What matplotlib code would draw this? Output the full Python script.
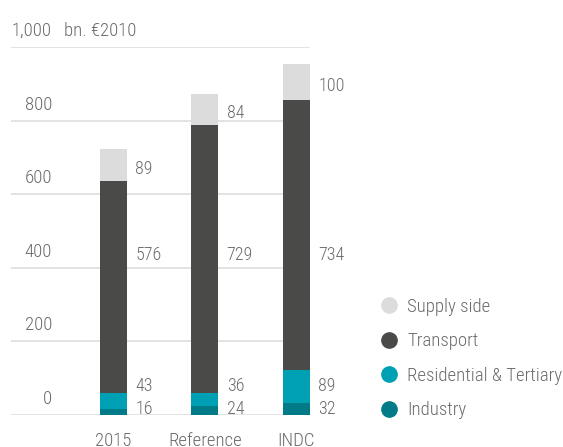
import matplotlib
matplotlib.use("Agg")
import matplotlib.pyplot as plt
from matplotlib.lines import Line2D
from matplotlib import transforms

plt.rcParams['font.family'] = ['Roboto Condensed', 'DejaVu Sans']
plt.rcParams['font.weight'] = 300

# -----------------------------
# Data
# -----------------------------
categories = ["2015", "Reference", "INDC"]
industry = [16, 24, 32]
residential = [43, 36, 89]
transport = [576, 729, 734]
supply = [89, 84, 100]

series_names = ["Industry", "Residential & Tertiary", "Transport", "Supply side"]
series_colors = ["#007b87", "#00a0b4", "#4a4a48", "#dcdcdc"]
yticks = [0, 200, 400, 600, 800, 1000]
ytick_labels = ["0", "200", "400", "600", "800", "1,000"]
unit_label = "bn. €2010"

text_color = "#6b6b6b"
grid_color = "#dedede"

# -----------------------------
# Figure
# -----------------------------
fig = plt.figure(figsize=(5.63, 4.47), dpi=100)
ax = fig.add_axes([0.0195, 0.0716, 0.531, 0.823])
ax.set_xlim(-1.12, 2.1475)
ax.set_ylim(0, 1000)
ax.axis("off")

# gridlines
for t in yticks:
    ax.axhline(t, color=grid_color, lw=1.2, zorder=0)

x = list(range(len(categories)))
width = 0.295
stack = [industry, residential, transport, supply]
bottom = [0] * len(categories)
for vals, color in zip(stack, series_colors):
    ax.bar(x, vals, width, bottom=bottom, color=color, zorder=2)
    bottom = [b + v for b, v in zip(bottom, vals)]

# tick labels (right-aligned, sitting above each gridline)
lab_tr = transforms.blended_transform_factory(ax.transAxes, ax.transData)
off = transforms.offset_copy(lab_tr, fig=fig, y=5, units="points")
for t, lab in zip(yticks, ytick_labels):
    ax.text(0.137, t, lab, transform=off, ha="right", va="bottom",
            fontsize=13.5, color=text_color)
ax.text(0.178, 1000, unit_label, transform=off, ha="left", va="bottom",
        fontsize=13.5, color=text_color)

# value labels to the right of each bar
for i in x:
    xl = i + width / 2 + 0.09
    total = industry[i] + residential[i] + transport[i]
    ax.text(xl, total + supply[i] / 2 - 10, str(supply[i]), ha="left",
            va="center", fontsize=13, color=text_color)
    ax.text(xl, 435, str(transport[i]), ha="left", va="center",
            fontsize=13, color=text_color)
    ax.text(xl, 80, str(residential[i]), ha="left", va="center",
            fontsize=13, color=text_color)
    ax.text(xl, 17, str(industry[i]), ha="left", va="center",
            fontsize=13, color=text_color)

# category labels
for i, c in enumerate(categories):
    ax.text(i, -47, c, ha="center", va="top", fontsize=13.5, color=text_color,
            clip_on=False)

# legend
handles = [Line2D([], [], marker="o", ls="", markersize=11,
                  markerfacecolor=col, markeredgecolor=col)
           for col in series_colors[::-1]]
leg = fig.legend(handles, series_names[::-1], loc="upper left",
                 bbox_to_anchor=(0.645, 0.372), frameon=False,
                 handletextpad=0.45, labelspacing=0.88, fontsize=13.5,
                 labelcolor=text_color, handlelength=1.0)

fig.savefig("out.png", dpi=100)
